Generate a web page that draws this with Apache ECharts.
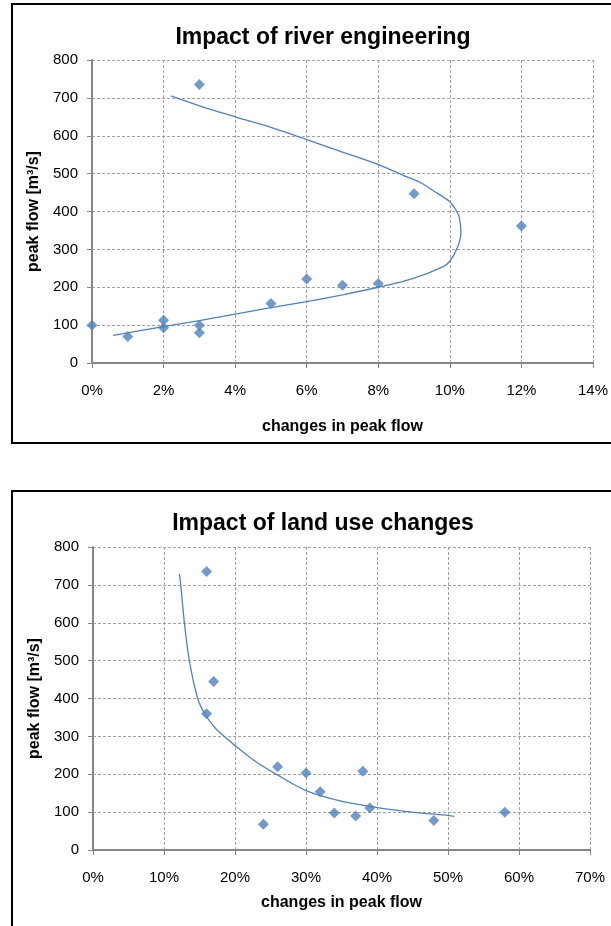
<!DOCTYPE html>
<html>
<head>
<meta charset="utf-8">
<script src="https://cdn.jsdelivr.net/npm/echarts@6/dist/echarts.min.js"></script>
<style>
html,body{margin:0;padding:0;background:#fff;}
#c{width:611px;height:926px;}
</style>
</head>
<body>
<div id="c"></div>
<script>
// ---- Chart 1: Impact of river engineering ----
const riverX = [0, 1, 2, 2, 3, 3, 3, 5, 6, 7, 8, 9, 12];          // changes in peak flow (%)
const riverY = [100, 70, 113, 93, 100, 80, 735, 157, 222, 205, 210, 447, 362]; // peak flow
const riverTrendX = [0.59, 2, 3, 4, 5, 6, 7, 8, 8.96, 9.8, 10.01, 10.22, 10.31, 10.26, 10.17, 10.0, 9.52, 9.15, 8.78, 8.0, 7, 6, 5, 4, 3, 2.2];
const riverTrendY = [73, 96, 112, 129, 146, 162, 180, 200, 223, 254, 270, 307, 344, 386, 404, 426, 456, 478, 492, 524, 557, 590, 622, 650, 679, 705];

// ---- Chart 2: Impact of land use changes ----
const landX = [16, 16, 17, 24, 26, 30, 32, 34, 37, 38, 39, 48, 58];
const landY = [735, 360, 445, 68, 220, 203, 154, 98, 90, 208, 111, 78, 100];
const landTrendX = [12.16, 12.36, 12.87, 13.57, 14.75, 15.7, 17.2, 18.9, 20, 22.8, 25.9, 30, 34.8, 40.1, 45, 50.1, 50.9];
const landTrendY = [729, 700, 600, 500, 400, 361, 322, 293, 276, 235, 199, 157, 130, 112, 100, 91, 89];

const yTicks = [0, 100, 200, 300, 400, 500, 600, 700, 800];

const titles = ['Impact of river engineering', 'Impact of land use changes'];
const xName = 'changes in peak flow';
const yName = 'peak flow [m³/s]';

const FONT = '"Liberation Sans", Arial, sans-serif';
const BLUE = '#4F81BD';

function pairs(xs, ys) { return xs.map((x, i) => [x, ys[i]]); }

const axisLineStyle = { show: true, lineStyle: { color: '#868686', width: 2 } };
const splitLineStyle = { show: true, lineStyle: { color: '#a0a0a0', width: 1, type: [3, 2] } };

function xAxisCfg(gridIndex, max, interval, nameGap) {
  return {
    type: 'value', gridIndex, min: 0, max, interval,
    name: xName, nameLocation: 'middle', nameGap,
    nameTextStyle: { fontFamily: FONT, fontWeight: 'bold', fontSize: 16, color: '#000' },
    axisLine: axisLineStyle,
    axisTick: { show: true, length: 5, lineStyle: { color: '#868686', width: 1 } },
    axisLabel: { formatter: '{value}%', fontFamily: FONT, fontSize: 15, color: '#000', margin: 20 },
    splitLine: splitLineStyle
  };
}
function yAxisCfg(gridIndex) {
  return {
    type: 'value', gridIndex, min: yTicks[0], max: yTicks[yTicks.length - 1], interval: 100,
    name: yName, nameLocation: 'middle', nameGap: 50, nameRotate: 90,
    nameTextStyle: { fontFamily: FONT, fontWeight: 'bold', fontSize: 16, color: '#000' },
    axisLine: axisLineStyle,
    axisTick: { show: true, length: 5, lineStyle: { color: '#868686', width: 1 } },
    axisLabel: { fontFamily: FONT, fontSize: 15, color: '#000', margin: 14 },
    splitLine: splitLineStyle
  };
}

const chart = echarts.init(document.getElementById('c'), null, { renderer: 'canvas' });
chart.setOption({
  animation: false,
  backgroundColor: '#fff',
  graphic: [
    { type: 'rect', shape: { x: 12, y: 4, width: 700, height: 439 }, style: { fill: 'none', stroke: '#000', lineWidth: 2 }, z: 100 },
    { type: 'rect', shape: { x: 12, y: 491, width: 700, height: 500 }, style: { fill: 'none', stroke: '#000', lineWidth: 2 }, z: 100 }
  ],
  title: [
    { text: titles[0], left: 318, top: 33, textAlign: 'center', textVerticalAlign: 'middle',
      textStyle: { fontFamily: FONT, fontWeight: 'bold', fontSize: 23, color: '#000' } },
    { text: titles[1], left: 318, top: 519, textAlign: 'center', textVerticalAlign: 'middle',
      textStyle: { fontFamily: FONT, fontWeight: 'bold', fontSize: 23, color: '#000' } }
  ],
  grid: [
    { left: 92, top: 60, width: 502, height: 303 },
    { left: 93, top: 547, width: 497, height: 303 }
  ],
  xAxis: [xAxisCfg(0, 14, 2, 56), xAxisCfg(1, 70, 10, 45)],
  yAxis: [yAxisCfg(0), yAxisCfg(1)],
  series: [
    { type: 'line', xAxisIndex: 0, yAxisIndex: 0, data: pairs(riverTrendX, riverTrendY),
      smooth: 0.3, showSymbol: false, lineStyle: { color: BLUE, width: 1.3 }, z: 2 },
    { type: 'scatter', xAxisIndex: 0, yAxisIndex: 0, data: pairs(riverX, riverY),
      symbol: 'diamond', symbolSize: 11, itemStyle: { color: BLUE }, z: 3 },
    { type: 'line', xAxisIndex: 1, yAxisIndex: 1, data: pairs(landTrendX, landTrendY),
      smooth: 0.3, showSymbol: false, lineStyle: { color: BLUE, width: 1.3 }, z: 2 },
    { type: 'scatter', xAxisIndex: 1, yAxisIndex: 1, data: pairs(landX, landY),
      symbol: 'diamond', symbolSize: 11, itemStyle: { color: BLUE }, z: 3 }
  ]
});
</script>
</body>
</html>
